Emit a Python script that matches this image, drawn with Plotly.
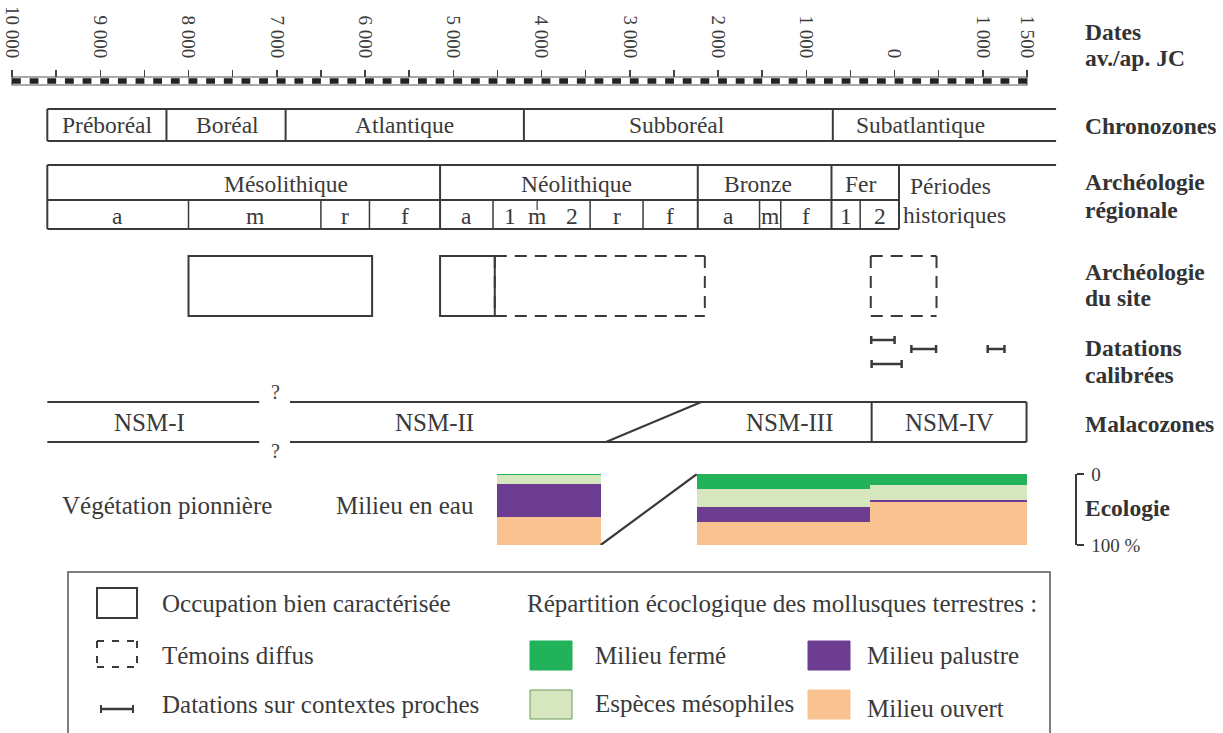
import plotly.graph_objects as go

W, H = 1223, 733
X0, X1 = -10136, 3721                    # years at pixel 0 and at pixel 1223
KPX = (X1 - X0) / W                      # years per pixel

# ---------------- data ----------------
tick_years = [-10000, -9000, -8000, -7000, -6000, -5000, -4000, -3000, -2000, -1000, 0, 1000, 1500]
tick_labels = ["10 000", "9 000", "8 000", "7 000", "6 000", "5 000", "4 000",
               "3 000", "2 000", "1 000", "0", "1 000", "1 500"]
half_ticks = [-9500, -8500, -7500, -6500, -5500, -4500, -3500, -2500, -1500, -500, 500]
ruler_start, ruler_end = -10000, 1500

chrono_names = ["Préboréal", "Boréal", "Atlantique", "Subboréal", "Subatlantique"]
chrono_bounds = [-9600, -8250, -6900, -4200, -700]
chrono_open_end = 1830
chrono_label_years = [-8920, -7560, -5550, -2460, 290]

arch_names = ["Mésolithique", "Néolithique", "Bronze", "Fer"]
arch_bounds = [-9600, -5150, -2230, -715, 50]
arch_open_end = 1830
arch_label_years = [-6890, -3600, -1550, -385]
hist_lines = ["Périodes", "historiques"]
hist_label_years = [635, 680]

sub_bounds = [-8000, -6500, -5950, -4550, -3450, -2850, -1530, -1290, -390]
sub_short_mark = -4050
sub_labels = ["a", "m", "r", "f", "a", "1", "m", "2", "r", "f", "a", "m", "f", "1", "2"]
sub_label_years = [-8800, -7250, -6225, -5550, -4850, -4360, -4050, -3660,
                   -3150, -2540, -1880, -1410, -1000, -550, -170]

site_start = [-8000, -4530, -5150, -270]
site_end = [-5920, -2150, -4530, 475]
site_diffuse = [False, True, False, True]

dat_start = [-265, -260, 190, 1055]
dat_end = [0, 80, 470, 1245]
dat_slot = [0, 2, 1, 1]

malaco_names = ["NSM-I", "NSM-II", "NSM-III", "NSM-IV"]
malaco_label_years = [-8440, -5210, -1190, 620]
malaco_start = -9600
malaco_gap = [-7200, -6850]
malaco_question_year = -7010
malaco_slope = [-3270, -2190]      # bottom, top of the oblique II/III limit
malaco_bounds = [-260, 1495]

eco_start = [-4500, -2240, -280]
eco_end = [-3330, -280, 1500]
eco_ferme = [2, 21, 15]
eco_meso = [12, 26, 21]
eco_palustre = [46, 20, 3]
eco_ouvert = [40, 33, 61]
eco_texts = ["Végétation pionnière", "Milieu en eau"]
eco_text_years = [-8245, -5550]

row_titles = [["Dates", "av./ap. JC"], ["Chronozones"], ["Archéologie", "régionale"],
              ["Archéologie", "du site"], ["Datations", "calibrées"], ["Malacozones"], ["Ecologie"]]

# ---------------- layout constants (pixels) ----------------
RUL_T, RUL_B = 77, 85
CHR_T, CHR_B = 109, 141
ARC_T, ARC_M, ARC_B = 165, 200, 229
SITE_T, SITE_B = 256, 316
DAT_Y = [340, 349, 364]
MAL_T, MAL_B = 402, 442
ECO_T, ECO_B = 474, 545

LINE = "#3a3a3a"
TXT = "#3a3a3a"
FONT = "Times New Roman"
FS = 23.5          # row texts
FS_BIG = 25        # malacozones, ecology and legend texts
FS_TITLE = 23.5
C_FERME, C_MESO, C_PAL, C_OUV = "#21b25a", "#d6e6bf", "#6c3d91", "#f9c291"

shapes, ann = [], []


def px(p):            # x pixel -> paper fraction
    return p / W


def py(p):            # y pixel -> paper fraction
    return 1 - p / H


def seg(x0, x1, y0, y1, w=2, color=LINE, dash=None, xref="x"):
    ln = dict(color=color, width=w)
    if dash:
        ln["dash"] = dash
    shapes.append(dict(type="line", xref=xref, yref="y", x0=x0, x1=x1, y0=y0, y1=y1, line=ln))


def txt(x, y, s, size=FS, xref="x", xanchor="center", bold=False, color=TXT):
    ann.append(dict(x=x, y=y, xref=xref, yref="y", text=f"<b>{s}</b>" if bold else s,
                    showarrow=False, xanchor=xanchor, yanchor="middle",
                    font=dict(family=FONT, size=size, color=color)))

# ruler
shapes.append(dict(type="rect", xref="x2", yref="y", x0=ruler_start, x1=ruler_end, y0=RUL_T, y1=RUL_B,
                   line=dict(color="#555", width=1.2), fillcolor="white"))
cent = 100 / KPX
seg(ruler_start, ruler_end, (RUL_T + RUL_B) / 2, (RUL_T + RUL_B) / 2, w=5.5, color="#222",
    dash=f"{cent:.3f}px,{cent:.3f}px", xref="x2")

# chronozones
seg(chrono_bounds[0], chrono_open_end, CHR_T, CHR_T)
seg(chrono_bounds[0], chrono_open_end, CHR_B, CHR_B)
for b in chrono_bounds:
    seg(b, b, CHR_T, CHR_B)
for n, yv in zip(chrono_names, chrono_label_years):
    txt(yv, (CHR_T + CHR_B) / 2, n)

# regional archaeology
seg(arch_bounds[0], arch_open_end, ARC_T, ARC_T)
seg(arch_bounds[0], arch_bounds[-1], ARC_M, ARC_M)
seg(arch_bounds[0], arch_bounds[-1], ARC_B, ARC_B)
for b in arch_bounds:
    seg(b, b, ARC_T, ARC_B)
for b in sub_bounds:
    seg(b, b, ARC_M, ARC_B, w=1.5)
seg(sub_short_mark, sub_short_mark, ARC_M, ARC_M + 10, w=1.2)
for n, yv in zip(arch_names, arch_label_years):
    txt(yv, (ARC_T + ARC_M) / 2 + 1, n)
txt(hist_label_years[0], (ARC_T + ARC_M) / 2 + 3, hist_lines[0])
txt(hist_label_years[1], (ARC_M + ARC_B) / 2, hist_lines[1])
for n, yv in zip(sub_labels, sub_label_years):
    txt(yv, (ARC_M + ARC_B) / 2 + 1, n)

# site archaeology
for s, e, d in zip(site_start, site_end, site_diffuse):
    if d:
        dd = "12px,8px"
        seg(s, e, SITE_T, SITE_T, dash=dd)
        seg(s, e, SITE_B, SITE_B, dash=dd)
        seg(e, e, SITE_T, SITE_B, dash=dd)
        seg(s, s, SITE_T, SITE_B, dash=dd)
    else:
        shapes.append(dict(type="rect", xref="x", yref="y", x0=s, x1=e, y0=SITE_T, y1=SITE_B,
                           line=dict(color=LINE, width=2)))

# calibrated dates
dmid = [(a + b) / 2 for a, b in zip(dat_start, dat_end)]
dhalf = [(b - a) / 2 for a, b in zip(dat_start, dat_end)]
dy = [DAT_Y[k] for k in dat_slot]

# malacozones
for y in (MAL_T, MAL_B):
    seg(malaco_start, malaco_gap[0], y, y)
    seg(malaco_gap[1], malaco_bounds[-1], y, y)
txt(malaco_question_year, MAL_T - 10, "?", size=20)
txt(malaco_question_year, MAL_B + 9, "?", size=20)
seg(malaco_slope[0], malaco_slope[1], MAL_B, MAL_T)
for b in malaco_bounds:
    seg(b, b, MAL_T, MAL_B)
for n, yv in zip(malaco_names, malaco_label_years):
    txt(yv, (MAL_T + MAL_B) / 2, n, size=FS_BIG)

# ecology texts
for n, yv in zip(eco_texts, eco_text_years):
    txt(yv, 505, n, size=FS_BIG)

# row titles
title_y = [[32, 58], [126], [182, 210], [272, 298], [348, 375], [424], [508]]
for lines, ys in zip(row_titles, title_y):
    for s, y in zip(lines, ys):
        txt(px(1083), y, s, size=FS_TITLE, xref="paper", xanchor="left", bold=True, color="#333")

# legend box
shapes.append(dict(type="rect", xref="paper", yref="y", x0=px(68), x1=px(1050), y0=572, y1=760,
                   line=dict(color="#555", width=1.5)))
shapes.append(dict(type="rect", xref="paper", yref="y", x0=px(97), x1=px(137), y0=588, y1=618,
                   line=dict(color=LINE, width=2)))
for (xa, xb, ya, yb) in [(97, 137, 641, 641), (97, 137, 667, 667), (97, 97, 641, 667), (137, 137, 641, 667)]:
    seg(px(xa), px(xb), ya, yb, dash="7px,8px", xref="paper")
seg(px(101), px(133), 709, 709, w=2.5, xref="paper")
seg(px(101), px(101), 705, 713, w=2, xref="paper")
seg(px(133), px(133), 705, 713, w=2, xref="paper")
txt(px(160), 603, "Occupation bien caractérisée", size=FS_BIG, xref="paper", xanchor="left")
txt(px(160), 655, "Témoins diffus", size=FS_BIG, xref="paper", xanchor="left")
txt(px(160), 704, "Datations sur contextes proches", size=FS_BIG, xref="paper", xanchor="left")
txt(px(525), 603, "Répartition écoclogique des mollusques terrestres :", size=FS_BIG, xref="paper",
    xanchor="left")
for (x0, y0, col, lc, lab, tx, ty) in [(530, 641, C_FERME, C_FERME, "Milieu fermé", 593, 655),
                                       (530, 690, C_MESO, "#6a9a5a", "Espèces mésophiles", 593, 703),
                                       (808, 641, C_PAL, C_PAL, "Milieu palustre", 865, 655),
                                       (808, 690, C_OUV, C_OUV, "Milieu ouvert", 865, 708)]:
    shapes.append(dict(type="rect", xref="paper", yref="y", x0=px(x0), x1=px(x0 + 42), y0=y0, y1=y0 + 29,
                       fillcolor=col, line=dict(color=lc, width=1)))
    txt(px(tx), ty, lab, size=FS_BIG, xref="paper", xanchor="left")

fig = go.Figure()

# ecology stacked bars
emid = [(a + b) / 2 for a, b in zip(eco_start, eco_end)]
ewid = [b - a for a, b in zip(eco_start, eco_end)]
for vals, col, name in [(eco_ferme, C_FERME, "Milieu fermé"), (eco_meso, C_MESO, "Espèces mésophiles"),
                        (eco_palustre, C_PAL, "Milieu palustre"), (eco_ouvert, C_OUV, "Milieu ouvert")]:
    fig.add_trace(go.Bar(x=emid, y=vals, width=ewid, xaxis="x", yaxis="y2", name=name,
                         marker=dict(color=col, line=dict(width=0)), showlegend=False,
                         hoverinfo="skip"))
# oblique link between the ecology blocks
fig.add_trace(go.Scatter(x=[eco_end[0], eco_start[1]], y=[100, 0], xaxis="x", yaxis="y2",
                         mode="lines", line=dict(color=LINE, width=2.2), showlegend=False,
                         hoverinfo="skip", cliponaxis=False))
# calibrated dates as error bars
fig.add_trace(go.Scatter(x=dmid, y=dy, mode="markers", marker=dict(size=1, opacity=0),
                         error_x=dict(type="data", array=dhalf, visible=True, color=LINE,
                                      thickness=2.5, width=4),
                         showlegend=False, hoverinfo="skip"))
# anchor trace for the ruler axis
fig.add_trace(go.Scatter(x=[ruler_start, ruler_end], y=[RUL_T, RUL_T], xaxis="x2", yaxis="y",
                         mode="markers", marker=dict(opacity=0), showlegend=False, hoverinfo="skip"))

fig.update_layout(
    width=W, height=H, margin=dict(l=0, r=0, t=0, b=0, pad=0, autoexpand=False),
    paper_bgcolor="white", plot_bgcolor="white",
    barmode="stack", bargap=0, hovermode=False,
    shapes=shapes, annotations=ann,
    xaxis=dict(range=[X0, X1], visible=False, fixedrange=True),
    yaxis=dict(range=[H, 0], visible=False, fixedrange=True),
    xaxis2=dict(range=[X0, X1], overlaying="x", anchor="free", position=py(RUL_T), side="top",
                tickmode="array", tickvals=tick_years, ticktext=tick_labels, tickangle=90,
                ticks="outside", ticklen=7, tickwidth=1.5, tickcolor="#444",
                tickfont=dict(family=FONT, size=19, color=TXT), ticklabelstandoff=5,
                ticklabeloverflow="allow",
                minor=dict(ticks="outside", tickmode="array", tickvals=half_ticks, ticklen=7,
                           tickwidth=1.5, tickcolor="#444", showgrid=False),
                showline=False, showgrid=False, zeroline=False, fixedrange=True),
    yaxis2=dict(domain=[py(ECO_B), py(ECO_T)], range=[100, 0], anchor="free",
                position=px(1075), side="right", tickmode="array", tickvals=[0, 100],
                ticktext=["0", "100 %"], ticks="outside", ticklen=7, tickwidth=1.5, tickcolor=LINE,
                showline=True, linecolor=LINE, linewidth=1.5, showgrid=False, zeroline=False,
                tickfont=dict(family=FONT, size=19, color=TXT), ticklabelstandoff=4,
                ticklabeloverflow="allow", fixedrange=True),
)

# the page's default 8px body margin would shift the figure; remove it
fig.write_html("out.html", config={"displayModeBar": False, "staticPlot": True},
               post_script="document.body.style.margin='0px';")
